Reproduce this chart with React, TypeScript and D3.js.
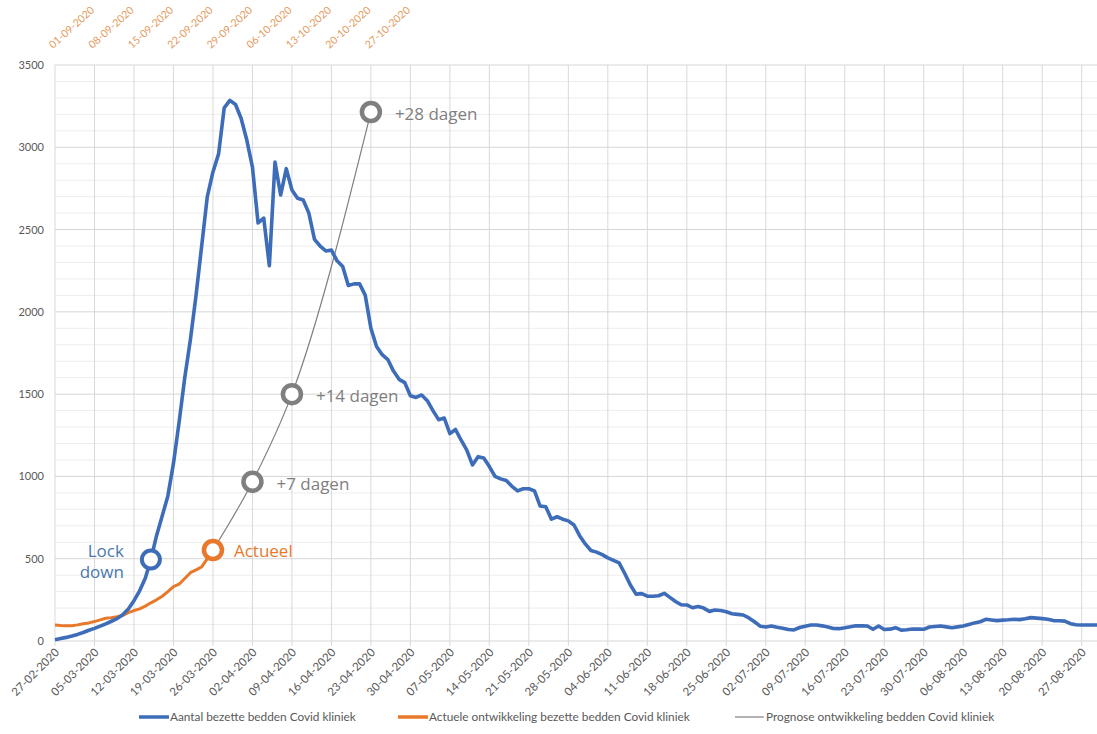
import * as d3 from 'd3';

// dagelijkse waarden vanaf 27-02-2020 (dag 0)
const bezetteBedden = [
  8, 15, 22, 30, 40, 52, 65, 77, 90, 104,
  120, 136, 160, 195, 245, 305, 381, 495, 640, 760,
  880, 1079, 1330, 1600, 1830, 2100, 2400, 2700, 2850, 2960,
  3240, 3285, 3260, 3175, 3044, 2880, 2540, 2570, 2280, 2910,
  2710, 2870, 2740, 2690, 2680, 2600, 2440, 2400, 2370, 2375,
  2310, 2275, 2160, 2170, 2170, 2100, 1900, 1790, 1740, 1710,
  1640, 1590, 1570, 1490, 1480, 1495, 1460, 1400, 1345, 1355,
  1260, 1285, 1220, 1160, 1070, 1120, 1112, 1060, 1000, 985,
  975, 940, 912, 925, 925, 912, 820, 816, 740, 755,
  740, 730, 705, 640, 590, 550, 540, 525, 505, 490,
  475, 410, 340, 285, 288, 272, 272, 275, 290, 265,
  240, 220, 219, 202, 209, 200, 180, 188, 185, 178,
  166, 162, 158, 140, 117, 90, 85, 91, 84, 78,
  70, 67, 82, 90, 97, 97, 92, 85, 76, 75,
  80, 86, 93, 92, 91, 71, 91, 70, 72, 81,
  66, 68, 73, 72, 71, 85, 88, 91, 86, 81,
  86, 91, 100, 110, 117, 132, 128, 124, 127, 129,
  132, 130, 135, 142, 139, 136, 132, 124, 123, 121,
  105, 99, 97, 97, 97, 97,
];

// tweede golf vanaf 01-09-2020, op dezelfde as gelegd
const actueleOntwikkeling = [
  97, 94, 92, 93, 98, 105, 110, 118, 128, 138,
  142, 148, 155, 172, 185, 195, 212, 232, 250, 272,
  300, 330, 345, 380, 415, 432, 450, 500, 553,
];

const prognoseDagen = [28, 35, 42, 56];
const prognoseWaarden = [553, 968, 1500, 3214];
const prognoseLabels = ['', '+7 dagen', '+14 dagen', '+28 dagen'];

const lockdownDag = 17;

const onderLabels = [
  '27-02-2020', '05-03-2020', '12-03-2020', '19-03-2020', '26-03-2020', '02-04-2020',
  '09-04-2020', '16-04-2020', '23-04-2020', '30-04-2020', '07-05-2020', '14-05-2020',
  '21-05-2020', '28-05-2020', '04-06-2020', '11-06-2020', '18-06-2020', '25-06-2020',
  '02-07-2020', '09-07-2020', '16-07-2020', '23-07-2020', '30-07-2020', '06-08-2020',
  '13-08-2020', '20-08-2020', '27-08-2020',
];

const bovenLabels = [
  '01-09-2020', '08-09-2020', '15-09-2020', '22-09-2020', '29-09-2020',
  '06-10-2020', '13-10-2020', '20-10-2020', '27-10-2020',
];

const yTicks = [0, 500, 1000, 1500, 2000, 2500, 3000, 3500];

const W = 1097;
const H = 734;
const BLAUW = '#3d6cb9';
const ORANJE = '#e8782a';
const GRIJS = '#7f7f7f';
const TEKST = '#595959';
const FONT = 'Lato, "Open Sans", sans-serif';
const LABELFONT = '"Open Sans", "Noto Sans", sans-serif';

export default function App() {
  const x = d3.scaleLinear().domain([0, 185]).range([55, 1098.6]);
  const y = d3.scaleLinear().domain([0, 3500]).range([641, 65]);

  const lijn = d3
    .line<number>()
    .x((_, i) => x(i))
    .y((d) => y(d))
    .curve(d3.curveLinear);

  const prognose = d3
    .line<number>()
    .x((_, i) => x(prognoseDagen[i]))
    .y((d) => y(d))
    .curve(d3.curveMonotoneX);

  const minor = d3.range(0, 3501, 100).filter((v) => v % 500 !== 0);
  const weekDagen = onderLabels.map((_, i) => i * 7);

  const actLaatste = actueleOntwikkeling.length - 1;

  return (
    <svg
      width={W}
      height={H}
      style={{ position: 'absolute', left: 0, top: 0, background: '#fff' }}
      fontFamily={FONT}>
      <rect width={W} height={H} fill='#fff' />

      {/* rasterlijnen */}
      {minor.map((v) => (
        <line key={'m' + v} x1={x(0)} x2={W} y1={y(v)} y2={y(v)} stroke='#ededed' strokeWidth={1} />
      ))}
      {weekDagen.map((d) => (
        <line key={'v' + d} x1={x(d)} x2={x(d)} y1={y(3500)} y2={y(0) + 5} stroke='#d9d9d9' strokeWidth={1} />
      ))}
      {yTicks.map((v) => (
        <line key={'M' + v} x1={x(0)} x2={W} y1={y(v)} y2={y(v)} stroke='#d6d6d6' strokeWidth={1} />
      ))}

      {/* y-as */}
      {yTicks.map((v) => (
        <text key={'yt' + v} x={44} y={y(v) + 4} textAnchor='end' fontSize={11} fill={TEKST}>
          {v}
        </text>
      ))}

      {/* onderste datums */}
      {onderLabels.map((l, i) => (
        <text
          key={'ol' + l}
          transform={`translate(${x(i * 7) + 5},${y(0) + 12}) rotate(-45)`}
          textAnchor='end'
          fontSize={11.5}
          fill={TEKST}>
          {l}
        </text>
      ))}

      {/* bovenste datums (tweede golf) */}
      {bovenLabels.map((l, i) => (
        <text
          key={'bl' + l}
          transform={`translate(${x(i * 7) - 2},${y(3500) - 16}) rotate(-42)`}
          textAnchor='start'
          fontSize={10.5}
          fill='#e39a5c'>
          {l}
        </text>
      ))}

      {/* lijnen */}
      <path d={prognose(prognoseWaarden) ?? ''} fill='none' stroke={GRIJS} strokeWidth={1.2} />
      <path d={lijn(actueleOntwikkeling) ?? ''} fill='none' stroke={ORANJE} strokeWidth={3} strokeLinejoin='round' />
      <path d={lijn(bezetteBedden) ?? ''} fill='none' stroke={BLAUW} strokeWidth={3.6} strokeLinejoin='round' />

      {/* markers */}
      <circle cx={x(lockdownDag)} cy={y(bezetteBedden[lockdownDag])} r={9} fill='#fff' stroke={BLAUW} strokeWidth={4} />
      <text x={x(lockdownDag) - 27} y={y(bezetteBedden[lockdownDag]) - 3} textAnchor='end' fontSize={17} fill='#4a78ad' fontFamily={LABELFONT}>
        Lock
      </text>
      <text x={x(lockdownDag) - 27} y={y(bezetteBedden[lockdownDag]) + 18} textAnchor='end' fontSize={17} fill='#4a78ad' fontFamily={LABELFONT}>
        down
      </text>

      {prognoseDagen.slice(1).map((d, i) => (
        <g key={'p' + d}>
          <circle cx={x(d)} cy={y(prognoseWaarden[i + 1])} r={9} fill='#fff' stroke={GRIJS} strokeWidth={4.5} />
          <text x={x(d) + 24} y={y(prognoseWaarden[i + 1]) + 8} fontSize={17} fill={GRIJS} fontFamily={LABELFONT}>
            {prognoseLabels[i + 1]}
          </text>
        </g>
      ))}

      <circle cx={x(actLaatste)} cy={y(actueleOntwikkeling[actLaatste])} r={9} fill='#fff' stroke={ORANJE} strokeWidth={4.5} />
      <text x={x(actLaatste) + 21} y={y(actueleOntwikkeling[actLaatste]) + 7} fontSize={17} fill={ORANJE} fontFamily={LABELFONT}>
        Actueel
      </text>

      {/* legenda */}
      <g fontSize={11.8} fill={TEKST}>
        <line x1={139} x2={169} y1={717} y2={717} stroke={BLAUW} strokeWidth={3.5} />
        <text x={170} y={721}>Aantal bezette bedden Covid kliniek</text>
        <line x1={398} x2={428} y1={717} y2={717} stroke={ORANJE} strokeWidth={3.5} />
        <text x={429} y={721}>Actuele ontwikkeling bezette bedden Covid kliniek</text>
        <line x1={735} x2={764} y1={717} y2={717} stroke={GRIJS} strokeWidth={1.2} />
        <text x={766} y={721}>Prognose ontwikkeling bedden Covid kliniek</text>
      </g>
    </svg>
  );
}
